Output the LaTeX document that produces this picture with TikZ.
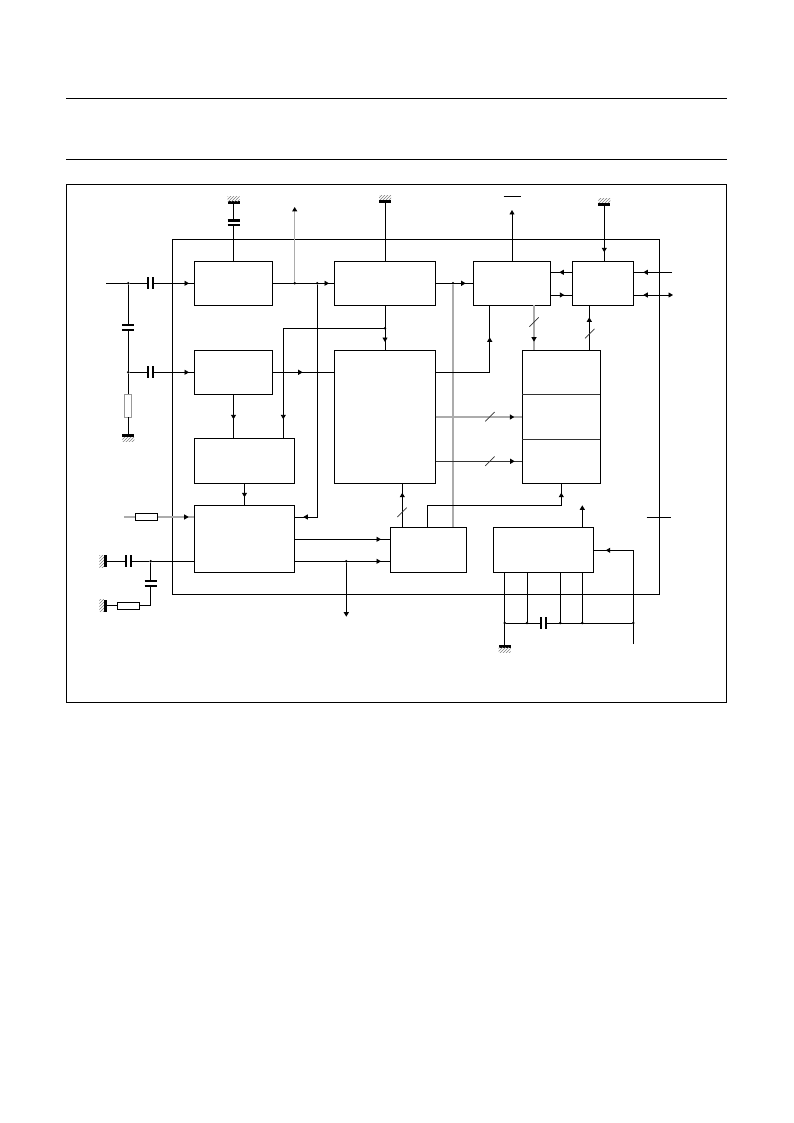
\documentclass[tikz,border=0pt]{standalone}
\usetikzlibrary{arrows.meta, positioning, patterns, decorations.markings}

\begin{document}
\begin{tikzpicture}[x=1pt, y=-1pt, line width=0.9pt,
    % Styles
    tipa/.tip={Triangle[length=4.5pt, width=5pt, color=black]},
    flow/.style={postaction={decorate, decoration={markings, mark=at position #1 with {\arrow{tipa}}}}},
    block/.style={draw, minimum width=78.4pt, minimum height=44pt, inner sep=0, outer sep=0, anchor=north west},
    tall block/.style={block, minimum width=101.4pt, minimum height=133pt},
    short block/.style={block, minimum height=45pt},
    soft wire/.style={gray!65, line width=1.5pt},
    dim wire/.style={gray!40!black},
    junction/.style={circle, fill, minimum size=2.8pt, inner sep=0, outer sep=0},
    resistor/.style={draw, fill=white, inner sep=0, outer sep=0, minimum width=22.4pt, minimum height=7pt},
    resistor up/.style={resistor, minimum width=7pt, minimum height=22.6pt},
    earth bar/.style={fill, inner sep=0, outer sep=0, minimum width=12pt, minimum height=3pt},
    earth bar left/.style={earth bar, minimum width=3pt, minimum height=12pt},
    earth hatch/.style={pattern=north east lines, pattern color=gray, inner sep=0, outer sep=0, minimum width=12pt, minimum height=4.5pt},
    earth hatch left/.style={earth hatch, minimum width=4.5pt, minimum height=12pt},
    vcap/.pic={\fill[white] (-2.4,-6) rectangle (2.4,6);
        \draw[black, line width=2.1pt] (-2.4,-6) -- (-2.4,6) (2.4,-6) -- (2.4,6);},
    hcap/.pic={\fill[white] (-6,-2.4) rectangle (6,2.4);
        \draw[black, line width=2.1pt] (-6,-2.4) -- (6,-2.4) (-6,2.4) -- (6,2.4);},
    slash/.pic={\draw[dim wire, line width=0.7pt] (-4.7,4.7) -- (4.7,-4.7);},
]
    \useasboundingbox (0,0) rectangle (793,1123);

    % === Page rules and frame ===
    \coordinate (rule-a-l) at (66,98);
    \coordinate (rule-a-r) at (727,98);
    \coordinate (rule-b-l) at (66,159);
    \coordinate (rule-b-r) at (727,159);
    \draw (rule-a-l) -- (rule-a-r);
    \draw (rule-b-l) -- (rule-b-r);
    \node[block, minimum width=660pt, minimum height=518pt] (sheet) at (66.5,184) {};
    \node[block, minimum width=487pt, minimum height=355pt] (chip) at (172.5,239.3) {};

    % === Blocks ===
    \node[block] (box-a) at (194.3,261.3) {};
    \node[block] (box-b) at (194.3,350.3) {};
    \node[block, minimum width=100.4pt, minimum height=45pt] (box-c) at (194.3,438.3) {};
    \node[block, minimum width=100.4pt, minimum height=67pt] (box-d) at (194.3,505.3) {};
    \node[block, minimum width=101.4pt] (box-e) at (334.3,261.3) {};
    \node[tall block] (box-f) at (334.3,350.3) {};
    \node[block, minimum width=77.4pt] (box-g) at (473.3,261.3) {};
    \node[block, minimum width=61.4pt] (box-h) at (572.3,261.3) {};
    \node[tall block, minimum width=78pt] (box-i) at (522.3,350.3) {};
    \node[short block, minimum width=76.4pt] (box-j) at (390.3,527.3) {};
    \node[short block, minimum width=100pt] (box-k) at (493.3,527.3) {};
    \draw[dim wire] (box-i.west |- 0,394.7) -- (box-i.east |- 0,394.7);
    \draw[dim wire] (box-i.west |- 0,439) -- (box-i.east |- 0,439);

    % === Earth symbols ===
    \node[earth bar] (gnd-a) at (233.5,202.7) {};
    \node[earth hatch, above=0pt of gnd-a] (hatch-a) {};
    \node[earth bar] (gnd-e) at (385,201.3) {};
    \node[earth hatch, above=0pt of gnd-e] (hatch-e) {};
    \node[earth bar] (gnd-h) at (604.3,204.3) {};
    \node[earth hatch, above=0pt of gnd-h] (hatch-h) {};
    \node[earth bar] (gnd-in) at (128.3,435.7) {};
    \node[earth hatch, below=0pt of gnd-in] (hatch-in) {};
    \node[earth bar] (gnd-k) at (504.7,646) {};
    \node[earth hatch, below=0pt of gnd-k] (hatch-k) {};
    \node[earth bar left] (gnd-c) at (105.3,561.3) {};
    \node[earth hatch left, left=0pt of gnd-c] (hatch-c) {};
    \node[earth bar left] (gnd-r) at (105.3,605.6) {};
    \node[earth hatch left, left=0pt of gnd-r] (hatch-r) {};

    % === Input side ===
    \coordinate (in-free) at (106,283.3);
    \node[junction] (jn-in-a) at (128.3,283.3) {};
    \node[junction] (jn-in-b) at (128.3,372.3) {};
    \node[resistor up, draw=gray!80] (res-in) at (128.3,405.7) {};
    \draw (in-free) -- (jn-in-a);
    \draw[flow=-5.3pt] (jn-in-a) -- (box-a.west);
    \draw[flow=-5.3pt] (jn-in-b) -- (box-b.west);
    \draw (jn-in-a) -- (jn-in-b);
    \draw (jn-in-b) -- (res-in);
    \draw (res-in) -- (gnd-in);
    \pic at (150.5,283.3) {vcap};
    \pic at (150.5,372.3) {vcap};
    \pic at (128.3,327.8) {hcap};

    % === Top row ===
    \coordinate (out-a) at (294.7,207);
    \node[junction] (jn-a) at (294.7,283.3) {};
    \node[junction] (jn-fb) at (317.3,283.3) {};
    \draw (gnd-a) -- (box-a.north);
    \pic at (233.5,222.9) {hcap};
    \draw[flow=-5.3pt] (box-a.east) -- (box-e.west);
    \draw[soft wire, -tipa] (jn-a) -- (out-a);
    \draw[flow=-8.6pt] (jn-fb) |- ([yshift=21.8pt]box-d.east);
    \draw (gnd-e) -- (box-e.north);
    \node[junction] (jn-bias) at (385,328.3) {};
    \draw[flow=-8.3pt] (box-e.south) -- (box-f.north);
    \draw[flow=-19pt] (jn-bias) -| ([xshift=38.8pt]box-c.north);
    \node[junction] (jn-bus) at (453,283.3) {};
    \draw[soft wire] (jn-bus) -- ([xshift=24.5pt]box-j.north);
    \draw[flow=-7.6pt] (box-e.east) -- (box-g.west);
    \coordinate (out-g) at (512,210);
    \coordinate (bar-l) at (503.7,196);
    \coordinate (bar-r) at (521,196);
    \draw[-tipa] (box-g.north) -- (out-g);
    \draw (bar-l) -- (bar-r);
    \draw[flow=-8.6pt] ([yshift=11pt]box-h.west) -- ([yshift=11pt]box-g.east);
    \draw[flow=-8pt] ([yshift=-11.7pt]box-g.east) -- ([yshift=-11.7pt]box-h.west);
    \draw[flow=-9pt] (gnd-h) -- ([xshift=1.3pt]box-h.north);
    \coordinate (pin-a) at (672,272.3);
    \coordinate (pin-b) at (673,295);
    \draw[flow=-9.6pt] (pin-a) -- ([yshift=11pt]box-h.east);
    \draw[flow=-9.6pt, tipa-] (pin-b) -- ([yshift=-11.7pt]box-h.east);

    % === Middle row ===
    \draw[flow=-19pt] (box-b.south) -- (box-b.south |- box-c.north);
    \draw[flow=-8pt] (box-c.south) -- (box-d.north);
    \draw[flow=-31.6pt] (box-b.east) -- (box-b.east -| box-f.west);
    \draw[flow=-32pt] ([yshift=44.8pt]box-f.east) -| ([xshift=-22.3pt]box-g.south);
    \draw[soft wire, flow=-8pt] ([yshift=-0.2pt]box-f.east) -- ([yshift=-0.2pt]box-f.east -| box-i.west);
    \pic at (490,416.7) {slash};
    \draw[dim wire, flow=-7.6pt] ([yshift=-44.5pt]box-f.east) -- ([yshift=-44.5pt]box-f.east -| box-i.west);
    \pic at (490,461.2) {slash};
    \draw[soft wire, flow=-8.6pt] ([xshift=-27.3pt]box-g.south -| box-i.north) -- ([xshift=-27.3pt]box-i.north);
    \pic at (534,322) {slash};
    \draw[flow=-12pt] ([xshift=28pt]box-i.north) -- ([xshift=28pt]box-i.north |- box-h.south);
    \pic at (589.7,333.6) {slash};

    % === Bottom row ===
    \coordinate (rin-free) at (124,517);
    \node[resistor] (res-rin) at (146.5,517) {};
    \draw[soft wire] (rin-free) -- (res-rin);
    \draw[soft wire, flow=-5.6pt] (res-rin) -- ([yshift=21.8pt]box-d.west);
    \node[junction] (jn-c) at (150.7,561.3) {};
    \draw (gnd-c) -- (jn-c);
    \draw (jn-c) -- ([yshift=-22.5pt]box-d.west);
    \pic at (128.3,561.3) {vcap};
    \node[resistor] (res-c) at (128.3,605.6) {};
    \draw (gnd-r) -- (res-c);
    \draw (jn-c) |- (res-c.east);
    \pic at (150.7,583.3) {hcap};
    \draw[flow=-9.3pt] ([yshift=-0.5pt]box-d.east) -- ([yshift=10.5pt]box-j.west);
    \draw[flow=-9.3pt] ([yshift=-22.5pt]box-d.east) -- ([yshift=-11.5pt]box-j.west);
    \node[junction] (jn-d) at (346.3,561.3) {};
    \coordinate (out-d) at (346.3,616.7);
    \draw[-tipa] (jn-d) -- (out-d);
    \draw[flow=-9.4pt] ([xshift=-26.2pt]box-j.north) -- ([xshift=-26.2pt]box-j.north |- box-f.south);
    \pic at (402,512.3) {slash};
    \coordinate (turn-i) at (561.3,505.3);
    \draw[flow=-9.4pt] ([xshift=-1.2pt]box-j.north) |- (turn-i) -- (box-i.south);
    \coordinate (out-k) at (582.3,505.3);
    \draw[-tipa] ([xshift=39pt]box-k.north) -- (out-k);

    % === Supply pins under the chip ===
    \node[junction] (bus-a) at (504.7,623) {};
    \node[junction] (bus-b) at (527,623) {};
    \node[junction] (bus-c) at (560.3,623) {};
    \node[junction] (bus-d) at (582.3,623) {};
    \node[junction] (bus-e) at (633.3,623) {};
    \coordinate (pin-k) at (633.3,644);
    \draw (bus-a) -- (bus-e);
    \pic at (543.7,623) {vcap};
    \draw (box-k.south -| bus-a) -- (bus-a) -- (gnd-k);
    \draw (box-k.south -| bus-b) -- (bus-b);
    \draw (box-k.south -| bus-c) -- (bus-c);
    \draw (box-k.south -| bus-d) -- (bus-d);
    \draw[flow=-12.4pt] (pin-k) |- ([yshift=-0.5pt]box-k.east);

    % Tick across the chip outline
    \coordinate (tick-l) at (646.7,517.3);
    \coordinate (tick-r) at (671,517.3);
    \draw (tick-l) -- (tick-r);
\end{tikzpicture}
\end{document}
